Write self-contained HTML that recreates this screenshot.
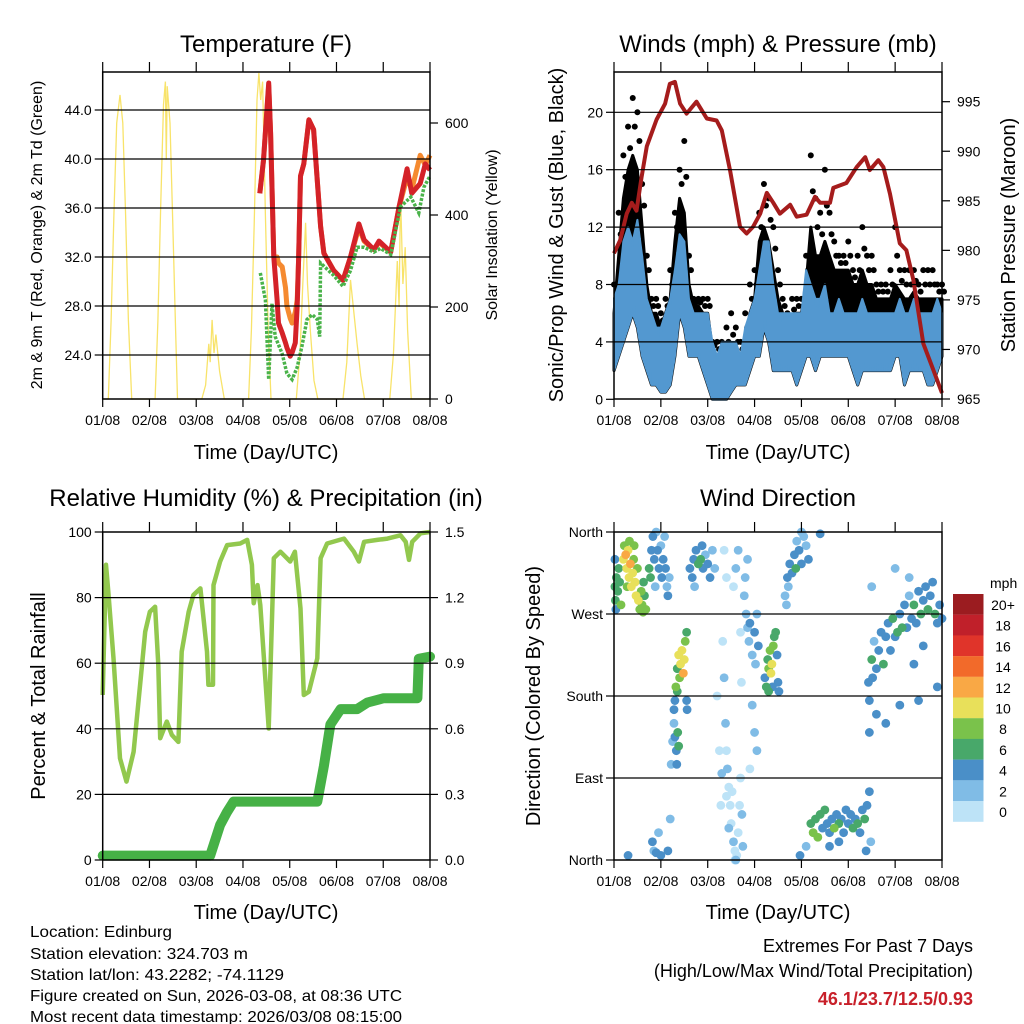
<!DOCTYPE html>
<html><head><meta charset="utf-8"><style>
html,body{margin:0;padding:0;background:#fff;}
svg{display:block;font-family:"Liberation Sans",sans-serif;}
</style></head><body>
<svg id="fig" width="1024" height="1024" viewBox="0 0 1024 1024" xmlns="http://www.w3.org/2000/svg">
<rect width="1024" height="1024" fill="#fff"/>
<g id="texts" fill="#000">
<text x="266" y="52" font-size="24" text-anchor="middle">Temperature (F)</text>
<text x="778" y="52" font-size="24" text-anchor="middle">Winds (mph) &amp; Pressure (mb)</text>
<text x="266" y="506" font-size="24" text-anchor="middle">Relative Humidity (%) &amp; Precipitation (in)</text>
<text x="778" y="506" font-size="24" text-anchor="middle">Wind Direction</text>
<text x="266" y="459" font-size="20" text-anchor="middle">Time (Day/UTC)</text>
<text x="778" y="459" font-size="20" text-anchor="middle">Time (Day/UTC)</text>
<text x="266" y="919" font-size="20" text-anchor="middle">Time (Day/UTC)</text>
<text x="778" y="919" font-size="20" text-anchor="middle">Time (Day/UTC)</text>
<text transform="translate(42,235) rotate(-90)" font-size="16" text-anchor="middle">2m &amp; 9m T (Red, Orange) &amp; 2m Td (Green)</text>
<text transform="translate(497,235) rotate(-90)" font-size="16" text-anchor="middle">Solar Insolation (Yellow)</text>
<text transform="translate(563,235) rotate(-90)" font-size="20" text-anchor="middle">Sonic/Prop Wind &amp; Gust (Blue, Black)</text>
<text transform="translate(1015,235) rotate(-90)" font-size="20" text-anchor="middle">Station Pressure (Maroon)</text>
<text transform="translate(45,696) rotate(-90)" font-size="20" text-anchor="middle">Percent &amp; Total Rainfall</text>
<text transform="translate(540,696) rotate(-90)" font-size="20" text-anchor="middle">Direction (Colored By Speed)</text>
<g font-size="16">
<text x="30" y="937" textLength="142" lengthAdjust="spacingAndGlyphs">Location: Edinburg</text>
<text x="30" y="959" textLength="218" lengthAdjust="spacingAndGlyphs">Station elevation: 324.703 m</text>
<text x="30" y="980" textLength="254" lengthAdjust="spacingAndGlyphs">Station lat/lon: 43.2282; -74.1129</text>
<text x="30" y="1001" textLength="372" lengthAdjust="spacingAndGlyphs">Figure created on Sun, 2026-03-08, at 08:36 UTC</text>
<text x="30" y="1022" textLength="372" lengthAdjust="spacingAndGlyphs">Most recent data timestamp: 2026/03/08 08:15:00</text>
</g>
<text x="973" y="952" font-size="18" text-anchor="end">Extremes For Past 7 Days</text>
<text x="973" y="977" font-size="18" text-anchor="end">(High/Low/Max Wind/Total Precipitation)</text>
<text x="973" y="1005" font-size="18" font-weight="bold" fill="#c8202a" text-anchor="end">46.1/23.7/12.5/0.93</text>
</g>
</svg>
<script>
// ---------- data ----------
const dayLabels=["01/08","02/08","03/08","04/08","05/08","06/08","07/08","08/08"];
const tempTicks=[24,28,32,36,40,44];
const solarTicks=[0,200,400,600];
const windTicks=[0,4,8,12,16,20];
const presTicks=[965,970,975,980,985,990,995];
const rhTicks=[0,20,40,60,80,100];
const rainTicks=[0,0.3,0.6,0.9,1.2,1.5];
const dirTicks=[0,90,180,270,360];
const dirNames=["North","East","South","West","North"];

const tempT=[3.36,3.44,3.55,3.59,3.66,3.73,3.76,3.84,3.91,3.94,4.01,4.05,4.12,4.16,4.19,4.23,4.3,4.41,4.51,4.66,4.73,4.94,5.14,5.3,5.48,5.59,5.8,5.91,6.16,6.34,6.51,6.61,6.79,6.9,7.0];
const temp2m=[37.2,39.9,46.2,42.1,32.0,28.5,26.6,25.8,25.0,24.6,23.9,24.2,25.0,28.0,31.8,38.6,39.6,43.2,42.4,34.5,32.3,30.9,30.1,32.0,34.7,33.4,32.6,33.3,32.4,36.1,39.2,37.2,38.0,39.6,39.1];
const temp9m=[37.2,39.9,46.0,42.1,32.0,32.0,31.5,31.2,29.5,28.0,27.0,26.6,27.5,28.5,31.8,38.6,39.6,43.2,42.4,34.5,32.3,30.9,30.1,32.0,34.4,33.3,32.6,33.2,32.4,36.1,38.5,37.5,40.3,39.5,40.3];
const dewT=[3.37,3.48,3.55,3.62,3.69,3.84,3.94,4.05,4.16,4.26,4.37,4.48,4.59,4.64,4.66,4.94,5.14,5.3,5.44,5.59,5.8,5.94,6.16,6.37,6.59,6.76,6.87,7.0];
const dewVal=[30.7,28.5,22.0,28.2,25.5,24.1,22.5,22.0,23.0,24.7,26.9,27.3,26.9,25.5,31.5,30.5,29.6,30.9,32.8,32.8,32.4,32.7,32.2,36.1,36.9,35.6,37.7,38.6];
const solarT=[0,0.12,0.18,0.24,0.30,0.37,0.43,0.49,0.55,0.62,1.12,1.18,1.24,1.30,1.34,1.36,1.38,1.44,1.50,1.56,1.60,2.12,2.2,2.27,2.3,2.34,2.38,2.42,2.5,2.6,3.12,3.18,3.24,3.3,3.34,3.38,3.42,3.48,3.54,3.6,4.14,4.22,4.28,4.34,4.38,4.44,4.52,4.6,5.14,5.22,5.3,5.36,5.44,5.52,5.6,6.14,6.22,6.3,6.34,6.37,6.42,6.47,6.52,6.6,7.0];
const solarVal=[0,0,170,400,600,661,600,400,170,0,0,170,420,640,690,520,680,600,380,150,0,0,30,120,80,172,100,140,60,0,0,150,380,650,709,650,690,400,150,0,0,100,250,383,250,150,40,0,0,80,259,200,120,50,0,0,100,300,200,448,250,330,150,0,0];

const windT=[0,0.1,0.2,0.3,0.4,0.5,0.6,0.7,0.8,0.9,1.0,1.1,1.2,1.3,1.4,1.5,1.6,1.7,1.8,1.9,2.0,2.1,2.2,2.3,2.4,2.5,2.6,2.7,2.8,2.9,3.0,3.1,3.2,3.3,3.4,3.5,3.6,3.7,3.8,3.9,4.0,4.1,4.2,4.3,4.4,4.5,4.6,4.7,4.8,4.9,5.0,5.1,5.2,5.3,5.4,5.5,5.6,5.7,5.8,5.9,6.0,6.1,6.2,6.3,6.4,6.5,6.6,6.7,6.8,6.9,7.0];
const windHi=[7,8,11,12,11,12.5,10,7,6,5,5,6,7,9,11.5,11,7,6,6,6,6,4,3,4,4,4,4,3,5,6,7,9,11,11,8,6,6,6,6,6,6,9,8,7,7,8,6,6,7,6,6,6,6,7,6,6,6,6,6,6,6,7,6,6,7,6,6,6,6,7,6];
const windLo=[2,3,4,5,6,5,3,2,1,1,0.5,0.5,1,3,6,5,3,3,3,2,1,0,0,0,0,0.5,1,1,1,2,3,3,5,4,2,2,2,2,2,1,2,3,3,2,3,3,3,3,3,3,3,2,1,2,2,2,2,2,2,2,3,3,1,2,2,2,2,1,1,2,3];
const gustDense=[6,10,14,16,17,16,12,8,6,6,5,6,7,11,14,13,8,6.5,6.5,6,6,3.5,3,3,3,3,3,3,4,6,7,11,12,11,9,7,6,5.5,5.5,6,6,8,12,10,10,11,10,9,9,9,9,8,8,9,8,8,7,7,7,7,8,7.5,7,7,7.5,7,7,7,7,7,7];
const gustHi=[8,13,17,19,21,20,15,10,7,7,6,7,9,13,16,18,10,7,7,7,7,4,4,4,5,6,5,4,6,8,9,13,15,14,12,9,7,6,7,7,7,10,17,14,13,16,13,11,10,10,11,9,10,12,10,10,8,8,8,9,12,9,9,9,9,8,9,9,9,8,8];
const presT=[0,0.13,0.27,0.38,0.48,0.59,0.7,0.91,1.09,1.19,1.3,1.41,1.55,1.76,1.98,2.19,2.3,2.48,2.69,2.83,2.97,3.12,3.26,3.4,3.54,3.76,3.9,4.11,4.29,4.4,4.61,4.68,4.96,5.18,5.36,5.46,5.64,5.75,5.89,6.1,6.24,6.39,6.6,6.81,7.0];
const presVal=[979.7,981,983.7,984.8,984,987.4,990.5,993.2,994.8,996.8,997,994.8,993.8,995,993.3,993.1,992.1,988,982.4,981.7,982.4,983.7,985.8,984.8,983.7,984.6,983.4,983.6,985.4,984.8,984.8,986.3,986.8,988.4,989.4,988.1,989.1,988.4,985.7,980.7,980,977,970.6,968,965.6];

const rhT=[0,0.07,0.12,0.23,0.37,0.51,0.66,0.8,0.91,1.01,1.12,1.19,1.23,1.37,1.48,1.62,1.69,1.84,1.94,2.09,2.23,2.26,2.36,2.37,2.51,2.66,2.94,3.09,3.19,3.23,3.31,3.37,3.55,3.66,3.8,4.01,4.11,4.23,4.3,4.41,4.59,4.66,4.8,5.16,5.37,5.48,5.59,5.87,6.09,6.37,6.48,6.55,6.62,6.8,7.0];
const rhVal=[50.3,90,81.8,61.5,31,23.9,33,53.4,69.6,75.7,77.2,59.5,37.1,42.2,38.1,36,63.5,75.7,80.8,82.8,63.5,53.4,53.4,83.8,91,96,96.5,97.6,90,78.3,83.8,77.7,40.1,92,94,91,94,76.7,50.3,51.3,61.5,92,96.5,98,94,91,97,97.6,98,99,97,91.5,97,99.6,100];
const rainT=[0,2.3,2.51,2.66,2.8,4.59,4.73,4.87,5.09,5.44,5.66,6.01,6.73,6.76,7.0];
const rainVal=[0.02,0.02,0.16,0.22,0.267,0.267,0.43,0.62,0.69,0.69,0.72,0.74,0.74,0.92,0.93];

const speedLabels=["0","2","4","6","8","10","12","14","16","18","20+"];
const speedColors=["#bde3f7","#80bce6","#4a8fc8","#48a86a","#7ac24b","#e8e05a","#f9a845","#f26a2a","#e0342a","#c0202a","#9b1c20"];
const wdT=[0.02,0.03,0.05,0.08,0.1,0.12,0.04,0.02,0.15,0.2,0.22,0.25,0.27,0.3,0.32,0.35,0.37,0.4,0.42,0.45,0.47,0.5,0.52,0.33,0.28,0.43,0.58,0.6,0.62,0.65,0.68,0.63,0.55,
0.75,0.78,0.8,0.83,0.86,0.9,0.93,0.96,1.0,1.02,1.05,1.08,1.1,1.13,1.15,0.88,1.18,
1.62,1.67,1.7,1.75,1.8,1.85,1.9,1.95,2.0,2.05,2.1,2.15,1.72,1.88,
1.38,1.42,1.45,1.48,1.5,1.4,1.52,1.55,1.35,1.32,1.3,1.28,1.35,1.28,1.3,1.33,1.36,1.38,1.34,1.25,1.22,1.55,1.56,
0.82,0.85,0.9,0.95,1.0,1.15,0.3,1.2,
2.2,2.25,2.3,2.32,2.35,2.38,2.4,2.42,2.45,2.48,2.5,2.55,2.58,2.6,2.62,2.65,2.68,2.7,2.73,2.4,2.45,2.52,2.55,2.6,2.65,2.7,2.72,2.28,2.58,2.75,2.35,2.4,
2.78,2.82,2.85,2.88,2.9,2.95,3.0,3.02,3.05,3.08,2.8,2.85,2.95,3.0,3.05,2.9,
3.22,3.25,3.28,3.3,3.33,3.35,3.37,3.4,3.42,3.45,3.48,3.5,3.52,3.3,3.38,
3.65,3.7,3.75,3.8,3.85,3.9,3.95,4.0,4.05,4.1,4.15,3.72,3.88,4.0,3.68,
3.97,4.1,4.2,4.25,4.3,4.35,4.4,4.45,4.5,4.55,4.6,4.65,4.7,4.75,4.8,4.85,4.9,4.95,5.0,5.05,5.1,5.15,5.2,5.25,5.3,5.35,5.4,5.45,5.48,4.6,4.8,5.38,
5.43,5.45,5.5,5.52,5.55,5.6,5.65,5.7,5.75,5.8,5.85,5.9,5.95,6.0,6.05,6.1,6.15,6.2,6.25,6.3,6.35,6.4,6.45,6.5,6.55,6.6,6.65,6.7,6.75,6.8,6.85,6.9,6.95,7.0,5.5,6.0,5.6,5.8,6.1,6.5,6.9,6.3,6.6,6.4,5.45,4.4];
const wdDir=[300,285,310,295,320,305,275,330,280,330,345,335,320,340,310,325,300,315,330,305,290,320,285,350,300,345,295,280,272,290,275,305,275,
320,310,340,355,330,360,340,320,345,310,330,355,320,300,290,300,310,
320,310,330,340,325,330,320,335,325,310,340,320,300,345,
225,215,230,205,220,200,240,250,210,190,175,165,185,150,135,120,140,125,105,130,105,175,165,
20,10,8,30,5,10,5,45,
180,120,95,240,200,150,120,100,80,60,40,20,10,0,5,30,60,90,50,70,35,75,300,320,340,250,195,60,0,15,340,310,
290,270,255,240,260,225,250,215,270,235,310,330,170,140,120,100,
200,190,220,210,230,205,215,235,245,250,225,195,185,185,190,
290,310,325,315,335,350,340,325,355,345,330,300,320,360,280,
5,15,40,30,45,25,50,35,55,40,30,45,35,50,40,45,30,55,40,50,35,45,40,30,55,45,60,75,20,15,20,10,
195,175,220,200,240,210,230,250,215,245,260,230,265,245,250,270,255,280,255,290,265,280,260,295,270,285,300,275,290,305,270,260,280,265,300,320,160,150,170,175,190,310,235,215,140,358];
const wdSpd=[6,6,6,6,6,6,4,4,8,10,8,12,10,10,10,12,10,10,8,10,10,8,10,8,8,8,8,8,8,6,8,6,8,
6,6,4,4,4,2,4,4,2,4,4,2,4,2,4,2,2,
4,4,4,4,6,6,4,2,4,4,2,2,2,4,
10,10,10,12,10,8,8,6,6,8,4,4,6,2,4,4,6,6,4,2,2,4,4,
4,2,4,2,4,4,4,2,
0,0,2,0,2,2,0,2,0,0,0,2,0,2,0,0,0,0,2,0,2,0,0,2,2,0,0,0,0,2,0,0,
2,2,2,2,4,2,4,2,2,4,2,2,2,2,2,0,
4,6,6,8,8,10,10,8,6,6,4,4,4,6,4,
2,4,4,4,4,2,4,4,2,2,4,2,6,2,2,
4,2,6,8,6,8,6,4,6,4,4,4,8,4,6,4,4,4,4,4,6,4,6,4,4,6,4,4,2,4,4,4,
4,4,6,4,2,4,4,4,6,4,4,4,6,4,6,4,6,4,4,2,4,6,4,4,6,4,4,6,4,4,6,4,4,4,2,2,4,4,4,4,4,2,4,4,4,4];

// ---------- helpers ----------
const NS="http://www.w3.org/2000/svg";
const svg=document.getElementById('fig');
function el(tag,attrs,parent){const e=document.createElementNS(NS,tag);for(const k in attrs)e.setAttribute(k,attrs[k]);(parent||svg).appendChild(e);return e;}
function lin(d0,d1,r0,r1){return v=>r0+(v-d0)/(d1-d0)*(r1-r0);}
function pathFrom(xs,ys,fx,fy){let s="";for(let i=0;i<xs.length;i++)s+=(i?"L":"M")+fx(xs[i]).toFixed(1)+" "+fy(ys[i]).toFixed(1);return s;}

function frame(name,x0,x1,y0,y1,xs,leftTicks,leftFy,leftFmt,rightTicks,rightFy,rightFmt,gridVals,gridFy){
  const g=el('g',{});
  
  
  gridVals.forEach(v=>{const l=el('line',{x1:x0,x2:x1,y1:gridFy(v),y2:gridFy(v),stroke:'#000','stroke-width':1.2},g);
    
    });
  for(let i=0;i<dayLabels.length;i++){const x=xs(i);
    el('line',{x1:x,x2:x,y1:y1,y2:y1+8,stroke:'#000','stroke-width':1.2},g);
    el('line',{x1:x,x2:x,y1:y0,y2:y0-10,stroke:'#000','stroke-width':1.2},g);
    const t=el('text',{x:x,y:y1+26,'font-size':14,'text-anchor':'middle'},g);t.textContent=dayLabels[i];
    
    }
  leftTicks.forEach(v=>{const y=leftFy(v);el('line',{x1:x0-8,x2:x0,y1:y,y2:y,stroke:'#000','stroke-width':1.2},g);
    const t=el('text',{x:x0-11,y:y+5,'font-size':14,'text-anchor':'end'},g);t.textContent=leftFmt(v);
    
    });
  rightTicks.forEach(v=>{const y=rightFy(v);el('line',{x1:x1,x2:x1+8,y1:y,y2:y,stroke:'#000','stroke-width':1.2},g);
    if(rightFmt){const t=el('text',{x:x1+15,y:y+5,'font-size':14},g);t.textContent=rightFmt(v);
    
    }});
  const r=el('rect',{x:x0,y:y0,width:x1-x0,height:y1-y0,fill:'none',stroke:'#000','stroke-width':1.5},g);
  
  
}

// ---------- Temperature panel ----------
{
 const fx=lin(0,7,102.7,430), fy=lin(24,44,355,110), fs=lin(0,600,399,123);
 const g=el('g',{});
 
 
 const s=el('path',{d:pathFrom(solarT,solarVal,fx,fs),fill:'none',stroke:'#f8e36a','stroke-width':1.3},g);
 
 
 const o=el('path',{d:pathFrom(tempT,temp9m,fx,fy),fill:'none',stroke:'#f58a30','stroke-width':5,'stroke-linejoin':'round'},g);
 
 
 const r=el('path',{d:pathFrom(tempT,temp2m,fx,fy),fill:'none',stroke:'#d42228','stroke-width':5,'stroke-linejoin':'round'},g);
 
 
 const d=el('path',{d:pathFrom(dewT,dewVal,fx,fy),fill:'none',stroke:'#4ab34a','stroke-width':3.5,'stroke-dasharray':'3 1.5'},g);
 
 
 frame('temperature',102.7,430,72,399,i=>fx(i),tempTicks.slice().reverse(),fy,v=>v.toFixed(1),solarTicks,fs,v=>String(v),[24,28,32,36,40,44],fy);
}

// ---------- Winds panel ----------
{
 const fx=lin(0,7,614,942), fy=lin(0,20,399.3,112.3), fp=lin(965,995,399,101.7);
 const g=el('g',{});
 
 
 let band=pathFrom(windT,gustDense,fx,fy);
 for(let i=windT.length-1;i>=0;i--)band+="L"+fx(windT[i]).toFixed(1)+" "+fy(windLo[i]).toFixed(1);
 const b=el('path',{d:band+"Z",fill:'#000',stroke:'#000','stroke-width':3,'stroke-linejoin':'round'},g);
 
 
 for(let i=0;i<windT.length;i++){
   const c=el('circle',{cx:fx(windT[i]),cy:fy(gustHi[i]),r:3,fill:'#000'},g);
   
   
   const c2=el('circle',{cx:fx(windT[i])+2,cy:fy((gustHi[i]+gustDense[i])/2),r:3,fill:'#000'},g);
   
   
 }
 let wb=pathFrom(windT,windHi,fx,fy);
 for(let i=windT.length-1;i>=0;i--)wb+="L"+fx(windT[i]).toFixed(1)+" "+fy(windLo[i]).toFixed(1);
 const w=el('path',{d:wb+"Z",fill:'#5398d0',stroke:'#5398d0','stroke-width':2,'stroke-linejoin':'round'},g);
 
 
 // jagged texture: zigzag between envelopes
 let zz="";
 for(let i=0;i<windT.length-1;i++){
   const xa=fx(windT[i]), xb=fx(windT[i+1]);
   for(let k=0;k<4;k++){
     const x=xa+(xb-xa)*k/4, hi=windHi[i]+(windHi[i+1]-windHi[i])*k/4, lo=windLo[i]+(windLo[i+1]-windLo[i])*k/4;
     zz+=(zz?"L":"M")+x.toFixed(1)+" "+fy(k%2?lo:hi).toFixed(1);
   }
 }
 const z=el('path',{d:zz,fill:'none',stroke:'#5398d0','stroke-width':2},g);
 
 
 const p=el('path',{d:pathFrom(presT,presVal,fx,fp),fill:'none',stroke:'#a51c1c','stroke-width':4,'stroke-linejoin':'round'},g);
 
 
 frame('winds',614,942,72,399,i=>fx(i),windTicks,fy,v=>String(v),presTicks,fp,v=>String(v),[4,8,12,16,20],fy);
}

// ---------- RH panel ----------
{
 const fx=lin(0,7,102.7,430), fy=lin(0,100,860,532), fr=lin(0,1.5,860,532);
 const g=el('g',{});
 
 
 const rn=el('path',{d:pathFrom(rainT,rainVal,fx,fr),fill:'none',stroke:'#46b146','stroke-width':10,'stroke-linejoin':'round','stroke-linecap':'round'},g);
 
 
 const rh=el('path',{d:pathFrom(rhT,rhVal,fx,fy),fill:'none',stroke:'#92c84e','stroke-width':4.5,'stroke-linejoin':'round'},g);
 
 
 frame('humidity',102.7,430,532,860,i=>fx(i),rhTicks,fy,v=>String(v),rainTicks,fr,v=>v.toFixed(1),[20,40,60,80],fy);
}

// ---------- Wind direction panel ----------
{
 const fx=lin(0,7,614,942), fy=lin(0,360,860,532);
 const g=el('g',{});
 
 
 const order=wdT.map((_,i)=>i).sort((a,b)=>wdSpd[a]-wdSpd[b]);
 order.forEach(i=>{
   const bin=Math.min(speedColors.length-1,Math.floor(wdSpd[i]/2));
   const c=el('circle',{cx:fx(wdT[i]),cy:fy(wdDir[i]),r:4.4,fill:speedColors[bin]},g);
   
   
 });
 frame('wind-direction',614,942,532,860,i=>fx(i),dirTicks,fy,v=>dirNames[dirTicks.indexOf(v)],[],fy,null,[90,180,270],fy);
 const lg=el('g',{});
 
 
 const lt=el('text',{x:990,y:588,'font-size':14},lg);lt.textContent="mph";
 
 
 for(let k=0;k<speedColors.length;k++){
   const idx=speedColors.length-1-k, y=594+k*20.7;
   const r=el('rect',{x:953,y:y,width:30.5,height:20.8,fill:speedColors[idx]},lg);
   
   
   const t=el('text',{x:1003,y:y+16,'font-size':14,'text-anchor':'middle'},lg);t.textContent=speedLabels[idx];
   
   
 }
}
</script>
</body></html>
